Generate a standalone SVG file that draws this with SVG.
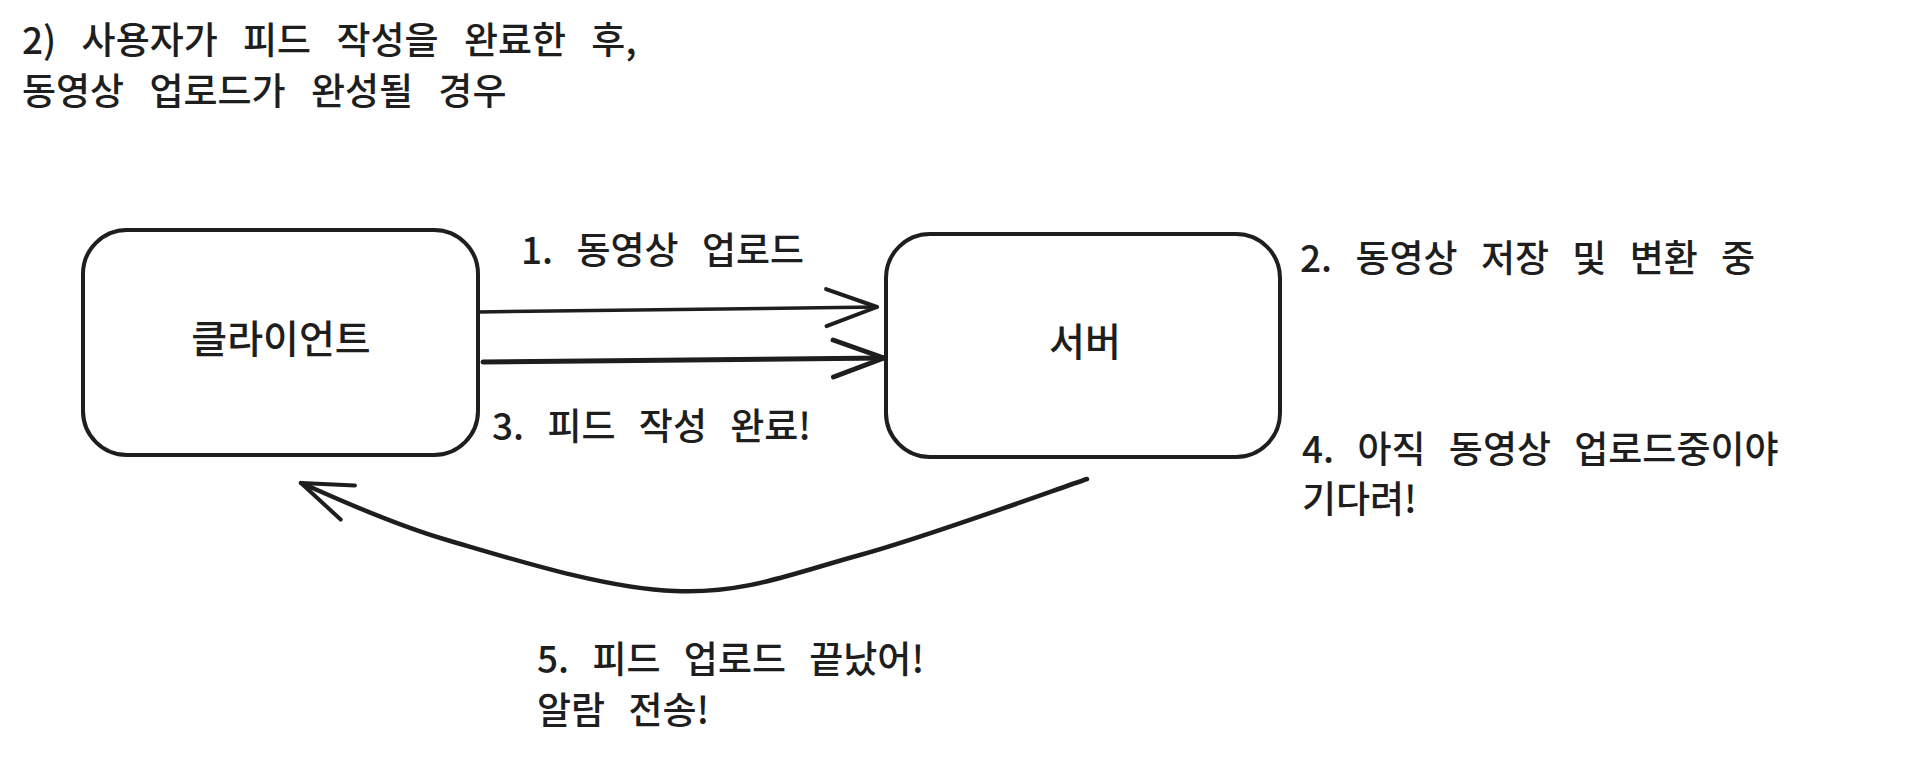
<svg xmlns="http://www.w3.org/2000/svg" width="1914" height="757" viewBox="0 0 1914 757">
  <style>
    .t { font-family: "Noto Sans CJK KR", "Noto Sans", sans-serif; font-size: 37px; font-weight: 500; fill: #1e1e1e; word-spacing: 15px; }
    .h { font-family: "Noto Sans CJK KR", "Noto Sans", sans-serif; font-size: 37px; font-weight: 500; fill: #1e1e1e; word-spacing: 17px; }
    .nt { font-family: "Noto Sans CJK KR", "Noto Sans", sans-serif; font-size: 39px; font-weight: 500; fill: #1e1e1e; text-anchor: middle; }
    .box { fill: #ffffff; stroke: #1e1e1e; stroke-width: 4; }
    .conn { fill: none; stroke: #1e1e1e; stroke-linecap: round; stroke-linejoin: round; }
    .head { fill: none; stroke: #1e1e1e; stroke-linecap: round; stroke-linejoin: round; }
  </style>
  <defs>
    <marker id="arrow" markerUnits="userSpaceOnUse" viewBox="-60 -30 70 60" refX="0" refY="0" markerWidth="70" markerHeight="60" orient="auto" overflow="visible">
      <path class="head" d="M-50.7,-18.5 L0,0 L-50.7,18.5" stroke-width="4"/>
    </marker>
    <marker id="arrow-bold" markerUnits="userSpaceOnUse" viewBox="-60 -30 70 60" refX="0" refY="0" markerWidth="70" markerHeight="60" orient="auto" overflow="visible">
      <path class="head" d="M-50.7,-18.5 L0,0 L-50.7,18.5" stroke-width="5"/>
    </marker>
  </defs>
  <rect width="1914" height="757" fill="#ffffff"/>

  <g id="title">
    <text class="h"><tspan x="22" y="54">2) 사용자가 피드 작성을 완료한 후,</tspan><tspan x="22" y="105">동영상 업로드가 완성될 경우</tspan></text>
  </g>

  <g id="client">
    <rect class="box" x="83" y="230" width="395" height="225" rx="44" ry="44"/>
    <text class="nt" x="281" y="353">클라이언트</text>
  </g>

  <g id="server">
    <rect class="box" x="886" y="234" width="394" height="223" rx="44" ry="44"/>
    <text class="nt" x="1085" y="356">서버</text>
  </g>

  <g id="connectors">
    <path id="c1" class="conn" d="M478,312 L877,307" stroke-width="3.5" marker-end="url(#arrow)"/>
    <path id="c3" class="conn" d="M483,362 L884,358" stroke-width="5" marker-end="url(#arrow-bold)"/>
    <path id="c5" class="conn" d="M1087,479 C1049,492 929,536 860,555 C791,574 744,594 675,591 C606,589 509,558 447,540 C385,522 325,493 301,483" stroke-width="4.5" marker-end="url(#arrow)"/>
  </g>

  <g id="labels">
    <text class="t" x="521" y="264">1. 동영상 업로드</text>
    <text class="t" x="492" y="440">3. 피드 작성 완료!</text>
    <text class="t" x="1300" y="272">2. 동영상 저장 및 변환 중</text>
    <text class="t"><tspan x="1302" y="463">4. 아직 동영상 업로드중이야</tspan><tspan x="1302" y="513">기다려!</tspan></text>
    <text class="t"><tspan x="537" y="673">5. 피드 업로드 끝났어!</tspan><tspan x="537" y="724">알람 전송!</tspan></text>
  </g>
</svg>
